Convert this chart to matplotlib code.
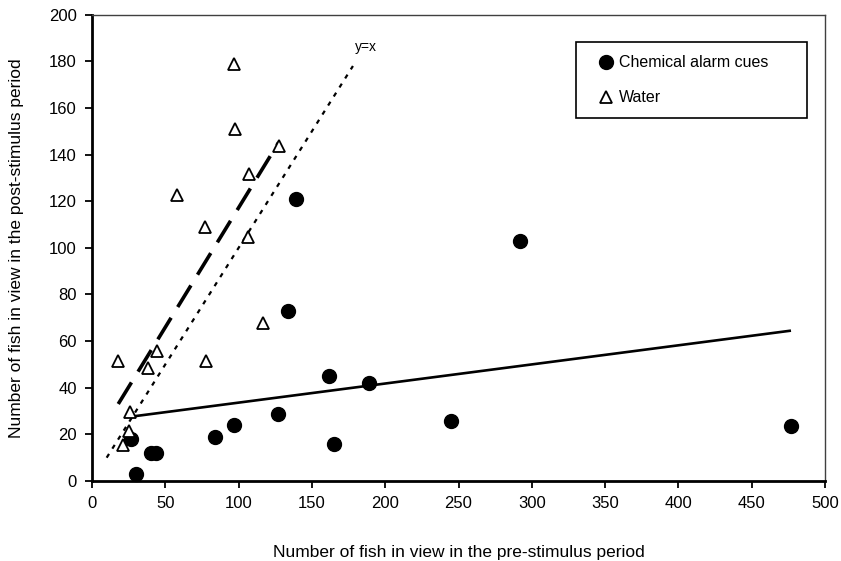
import numpy as np
import matplotlib
matplotlib.use("Agg")
import matplotlib.pyplot as plt
from matplotlib.lines import Line2D
from matplotlib.patches import Rectangle

plt.rcParams['font.family'] = ['Liberation Sans', 'DejaVu Sans']

# Chemical alarm cues (filled circles)
chem_pre = [30.0, 26.6, 40.2, 43.7, 83.9, 96.9, 126.9, 133.7, 139.2, 161.7, 165.1, 189.0, 244.9, 292.0, 476.8]
chem_post = [3.0, 18.0, 12.0, 12.0, 18.9, 24.0, 28.7, 72.9, 121.0, 45.0, 15.9, 42.0, 25.7, 103.0, 23.6]

# Water (open triangles)
water_pre = [96.9, 97.8, 127.3, 106.9, 58.2, 77.1, 106.2, 116.9, 17.9, 44.1, 38.0, 77.8, 25.9, 25.0, 20.9]
water_post = [178.9, 150.9, 143.8, 131.8, 122.7, 108.8, 104.8, 67.6, 51.6, 55.8, 48.6, 51.6, 29.5, 21.4, 15.6]

# y = x reference line extent
yx_range = [10, 178]

x_ticks = [0, 50, 100, 150, 200, 250, 300, 350, 400, 450, 500]
y_ticks = [0, 20, 40, 60, 80, 100, 120, 140, 160, 180, 200]

fig = plt.figure(figsize=(8.41, 5.61), dpi=100)
ax = fig.add_axes([92/841, 80/561, 733/841, 466.3/561])

# trendlines (linear fits)
cx = np.array(chem_pre); cy = np.array(chem_post)
m1, b1 = np.polyfit(cx, cy, 1)
xs1 = np.array([cx.min(), cx.max()])
ax.plot(xs1, m1*xs1 + b1, color='black', lw=1.9, solid_capstyle='butt', zorder=2)

wx = np.array(water_pre); wy = np.array(water_post)
m2, b2 = np.polyfit(wx, wy, 1)
xs2 = np.array([wx.min(), wx.max()])
ax.plot(xs2, m2*xs2 + b2, color='black', lw=2.6, dashes=(7, 3.5), zorder=2)

ax.plot(yx_range, yx_range, color='black', lw=1.6, dashes=(2, 2.8), zorder=2)
ax.text(187, 183, 'y=x', fontsize=10, ha='center', va='bottom')

ax.plot(chem_pre, chem_post, 'o', color='black', markersize=10, zorder=3, clip_on=False)
ax.plot(water_pre, water_post, '^', markerfacecolor='white', markeredgecolor='black',
        markersize=9, markeredgewidth=1.3, zorder=3, clip_on=False)

ax.set_xlim(0, 500)
ax.set_ylim(0, 200)
ax.set_xticks(x_ticks)
ax.set_yticks(y_ticks)
ax.tick_params(direction='out', length=5, width=1.3, labelsize=12, pad=6)

for s in ['left', 'bottom']:
    ax.spines[s].set_linewidth(2)
for s in ['top', 'right']:
    ax.spines[s].set_linewidth(1)
    ax.spines[s].set_color('#404040')

ax.set_xlabel('Number of fish in view in the pre-stimulus period', fontsize=12.5, labelpad=24)
ax.set_ylabel('Number of fish in view in the post-stimulus period', fontsize=12.5, labelpad=18)

# legend box
ax.add_patch(Rectangle((0.660, 0.779), 0.315, 0.162, transform=ax.transAxes,
                       facecolor='white', edgecolor='black', linewidth=1.2, zorder=4))

handles = [
    Line2D([], [], marker='o', color='black', linestyle='none', markersize=10),
    Line2D([], [], marker='^', markerfacecolor='white', markeredgecolor='black',
           linestyle='none', markersize=9, markeredgewidth=1.3),
]
leg = ax.legend(handles, ['Chemical alarm cues', 'Water'], loc='upper left',
                bbox_to_anchor=(0.690, 0.913), fontsize=11.5, frameon=False,
                handlelength=1.0, handletextpad=0.3, borderpad=0, labelspacing=1.25,
                borderaxespad=0)
leg.set_zorder(5)

fig.savefig('out.png', dpi=100)
